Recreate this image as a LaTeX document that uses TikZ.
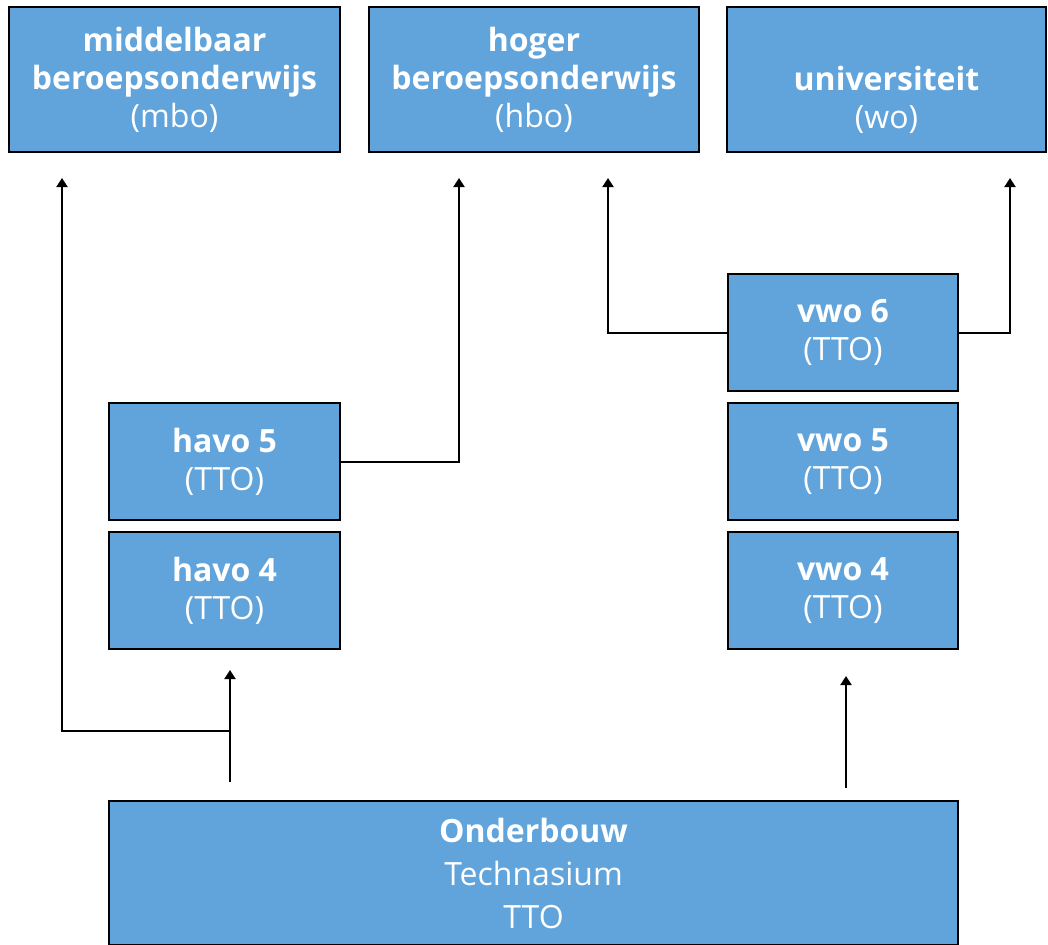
\documentclass[tikz,border=0pt]{standalone}
\usepackage{fontspec}
\setmainfont{Open Sans}
\usetikzlibrary{arrows.meta}
\definecolor{boxblue}{HTML}{61A4DB}
\tikzset{
  box/.style={draw=black, line width=1pt, fill=boxblue, text=white, align=center,
    font=\fontsize{16pt}{19pt}\selectfont, inner sep=0pt},
  ->/.style={line width=1pt, -{Triangle[width=5.5pt,length=4.5pt]}}
}
\begin{document}
\begin{tikzpicture}[x=0.5pt,y=-0.5pt]
        \useasboundingbox (0,0) rectangle (1048,944);
        % vervolgopleidingen
        \node[box, minimum width=165.5pt, minimum height=72.5pt] (mbo) at (174.5,79.5) {\textbf{middelbaar}\\\textbf{beroepsonderwijs}\\(mbo)};
        \node[box, minimum width=165pt, minimum height=72.5pt] (hbo) at (534,79.5) {\textbf{hoger}\\\textbf{beroepsonderwijs}\\(hbo)};
        \node[box, minimum width=159.5pt, minimum height=72.5pt] (wo) at (886.5,79.5) {\strut\\\textbf{universiteit}\\(wo)};
        % bovenbouw
        \node[box, minimum width=115pt, minimum height=58.5pt] (vwo6) at (843,332.5) {\textbf{vwo 6}\\(TTO)};
        \node[box, minimum width=115pt, minimum height=58.5pt] (vwo5) at (843,461.5) {\textbf{vwo 5}\\(TTO)};
        \node[box, minimum width=115pt, minimum height=58.5pt] (vwo4) at (843,590.5) {\textbf{vwo 4}\\(TTO)};
        \node[box, minimum width=115.5pt, minimum height=58.5pt] (havo5) at (224.5,461.5) {\textbf{havo 5}\\(TTO)};
        \node[box, minimum width=115.5pt, minimum height=58.5pt] (havo4) at (224.5,590.5) {\textbf{havo 4}\\(TTO)};
        % onderbouw
        \node[box, minimum width=424.5pt, minimum height=72pt, font=\fontsize{16pt}{21.5pt}\selectfont] (onder) at (533.5,873) {\textbf{Onderbouw}\\Technasium\\TTO};
        % eindpunten van de pijlen
        \coordinate (mboin) at (62,178);
        \coordinate (hboin) at (459,178);
        \coordinate (vhbo) at (608,178);
        \coordinate (woin) at (1010,178);
        \coordinate (hstart) at (230,782);
        \coordinate (hsplit) at (230,731);
        \coordinate (hend) at (230,670);
        \coordinate (vstart) at (846,788);
        \coordinate (vend) at (846,676);
        \draw[->] (hstart) -- (hend);
        \draw[->] (hsplit) -| (mboin);
        \draw[->] (havo5.east) -| (hboin);
        \draw[->] (vwo6.west) -| (vhbo);
        \draw[->] (vwo6.east) -| (woin);
        \draw[->] (vstart) -- (vend);
\end{tikzpicture}
\end{document}
